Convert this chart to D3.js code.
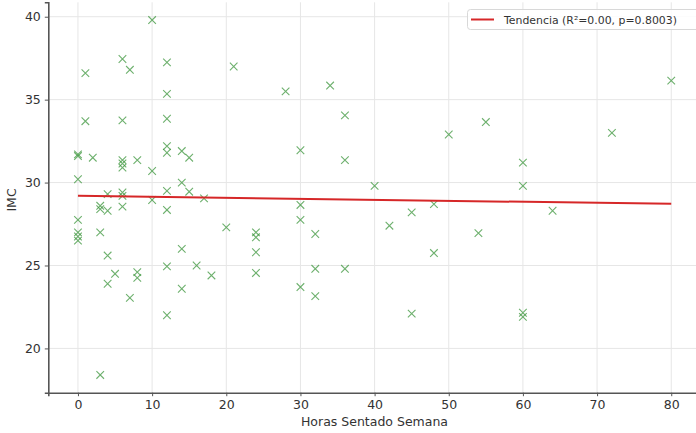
<!DOCTYPE html>
<html><head><meta charset="utf-8">
<script src="https://cdn.jsdelivr.net/npm/d3@7"></script>
<style>body{margin:0;background:#fff}svg{display:block;font-family:"DejaVu Sans",sans-serif}</style>
</head><body>
<svg id="c" width="696" height="433"></svg>
<script>
const horas = [0,0,0,0,0,0,0, 1,1, 2, 3,3,3,3, 4,4,4,4, 5, 6,6,6,6,6,6,6,6, 7,7, 8,8,8, 10,10,10,
 12,12,12,12,12,12,12,12,12, 14,14,14,14, 15,15, 16, 17, 18, 20, 21, 24,24,24,24, 28, 30,30,30,30,
 32,32,32, 34, 36,36,36, 40, 42, 45,45, 48,48, 50, 54, 55, 60,60,60,60, 64, 72, 80];
const imc = [31.7,31.6,30.2,27.75,27.0,26.75,26.5, 36.6,33.7, 31.5, 28.6,28.4,27.0,18.4, 29.3,28.3,25.6,23.9, 24.5,
 37.45,33.75,31.35,31.15,30.9,29.4,29.2,28.55, 36.8,23.05, 31.35,24.6,24.25, 39.8,30.7,28.95,
 37.25,35.35,33.85,32.2,31.8,29.5,28.35,24.95,22.0, 31.9,30.0,26.0,23.6, 31.5,29.45, 25.0, 29.05, 24.4, 27.3, 37.0,
 27.0,26.7,25.8,24.55, 35.5, 31.95,28.65,27.75,23.7, 26.9,24.8,23.15, 35.85, 34.05,31.35,24.8, 29.8, 27.4, 28.2,22.1,
 28.7,25.75, 32.9, 26.95, 33.65, 31.2,29.8,22.15,21.9, 28.3, 33.0, 36.15];
const trendX = [0, 80];
const trendY = [29.2, 28.72];
const xTicks = [0,10,20,30,40,50,60,70,80];
const yTicks = [20,25,30,35,40];
const legendLabel = "Tendencia (R²=0.00, p=0.8003)";

const svg = d3.select("#c");
const x = d3.scaleLinear().domain([-4, 84]).range([48.3, 700.9]);
const y = d3.scaleLinear().domain([17.33, 40.87]).range([392.7, 2.3]);

// grid
svg.append("g").selectAll("line").data(xTicks).join("line")
  .attr("x1", d => x(d)).attr("x2", d => x(d)).attr("y1", 2.3).attr("y2", 392.7)
  .attr("stroke", "#e6e6e6").attr("stroke-width", 1);
svg.append("g").selectAll("line").data(yTicks).join("line")
  .attr("y1", d => y(d)).attr("y2", d => y(d)).attr("x1", 48.3).attr("x2", 700.9)
  .attr("stroke", "#e6e6e6").attr("stroke-width", 1);

// points as x markers
const s = 3.8;
const pts = svg.append("g").attr("stroke", "#3c963c").attr("stroke-opacity", 0.75).attr("stroke-width", 1.1).attr("fill", "none");
horas.forEach((h, i) => {
  const cx = x(h), cy = y(imc[i]);
  pts.append("path").attr("d", `M${cx-s},${cy-s}L${cx+s},${cy+s}M${cx-s},${cy+s}L${cx+s},${cy-s}`);
});

// trend line
svg.append("path").datum(trendX.map((d, i) => [d, trendY[i]]))
  .attr("d", d3.line().x(d => x(d[0])).y(d => y(d[1])))
  .attr("stroke", "#d62728").attr("stroke-width", 2).attr("fill", "none");

// axes
const xa = svg.append("g").attr("transform", "translate(0,392.7)")
  .call(d3.axisBottom(x).tickValues(xTicks).tickSize(3.5).tickPadding(4));
const ya = svg.append("g").attr("transform", "translate(48.3,0)")
  .call(d3.axisLeft(y).tickValues(yTicks).tickSize(3.5).tickPadding(4));
[xa, ya].forEach(a => {
  a.select(".domain").attr("stroke", "#555").attr("stroke-width", 1.6);
  a.selectAll(".tick line").attr("stroke", "#555");
  a.selectAll("text").attr("font-size", 12.5).attr("fill", "#333").attr("font-family", "DejaVu Sans");
});

// labels
svg.append("text").attr("x", 374.5).attr("y", 426).attr("text-anchor", "middle")
  .attr("font-size", 12.5).attr("fill", "#333").text("Horas Sentado Semana");
svg.append("text").attr("transform", "translate(16,200) rotate(-90)").attr("text-anchor", "middle")
  .attr("font-size", 12.5).attr("fill", "#333").text("IMC");

// legend
const lg = svg.append("g");
lg.append("rect").attr("x", 467.5).attr("y", 9.5).attr("width", 236).attr("height", 20).attr("rx", 3)
  .attr("fill", "#fff").attr("fill-opacity", 0.85).attr("stroke", "#d8d8d8");
lg.append("line").attr("x1", 471).attr("x2", 494).attr("y1", 19.5).attr("y2", 19.5)
  .attr("stroke", "#d62728").attr("stroke-width", 2);
lg.append("text").attr("x", 504).attr("y", 23.5).attr("font-size", 10.9).attr("fill", "#333").text(legendLabel);
</script>
</body></html>
